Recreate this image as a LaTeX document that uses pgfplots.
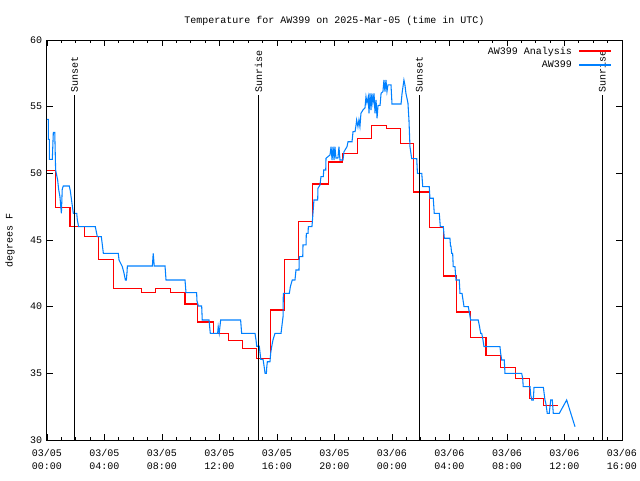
\documentclass[border=0pt]{standalone}
\usepackage{pgfplots}
\pgfplotsset{compat=1.18}
\usepackage{fontspec}
\setmainfont{Liberation Mono}
\definecolor{anred}{RGB}{255,0,0}
\definecolor{obsblue}{RGB}{0,128,255}
\newcommand{\gfont}{\fontsize{7.5}{9.75}\selectfont}
\begin{document}
\gfont
\begin{tikzpicture}[x=1pt,y=1pt]
\begin{axis}[
  scale only axis, width=431.25pt, height=300pt,
  at={(0pt,0pt)}, anchor=south west,
  xmin=0, xmax=40, ymin=30, ymax=60,
  xtick={0,4,...,40},
  xticklabels={{03/05\\00:00},{03/05\\04:00},{03/05\\08:00},{03/05\\12:00},{03/05\\16:00},{03/05\\20:00},{03/06\\00:00},{03/06\\04:00},{03/06\\08:00},{03/06\\12:00},{03/06\\16:00}},
  minor x tick num=3,
  ytick={30,35,...,60},
  tick align=inside,
  major tick length=4.5pt, minor tick length=2.25pt,
  tick style={black, line width=0.6pt},
  axis line style={line width=0.75pt},
  xticklabel style={align=center, font=\gfont, yshift=-4.5pt},
  yticklabel style={font=\gfont, xshift=-1pt},
  /pgf/number format/assume math mode=true,
  legend plot pos=right,
  legend cell align=right,
  legend image code/.code={\draw[#1, line width=1.4pt] (0pt,0pt) -- (24pt,0pt);},
  legend style={draw=none, fill=none, at={(1,1)}, anchor=north east,
    xshift=-7pt, yshift=-3pt, font=\gfont, inner sep=0pt, row sep=0pt,
    column sep=3pt},
]
\addplot[color=anred, line width=0.8pt, const plot] coordinates {
(0,50.2)(0.6,47.45)(1.6,46.0)(2.6,45.25)(3.6,43.55)(4.6,41.38)(6.6,41.07)(7.56,41.38)(8.6,41.07)(9.6,40.2)(10.5,38.85)(11.57,38.0)(12.6,37.43)(13.6,36.88)(14.6,36.13)(15.58,39.75)(16.5,43.55)(17.5,46.38)(18.5,49.2)(19.57,50.85)(20.55,51.5)(21.6,52.6)(22.6,53.6)(23.6,53.37)(24.6,52.27)(25.48,48.6)(26.6,45.95)(27.57,42.3)(28.5,39.6)(29.45,37.7)(30.54,36.35)(31.56,35.45)(32.56,34.63)(33.55,33.13)(34.57,32.58)(35.57,32.58)
};
\addlegendentry{AW399 Analysis}
\addplot[color=obsblue, line width=0.8pt] coordinates {
(0,54.05)(0.09,54.05)(0.09,52.55)(0.16,52.55)(0.16,51.05)(0.37,51.05)(0.44,53.07)(0.54,53.07)(0.6,50.25)(0.74,49.5)(0.81,48.8)(0.9,48.25)(1.0,47.0)(1.06,48.8)(1.13,49.05)(1.55,49.05)(1.62,48.7)(1.69,48.13)(1.83,47.0)(2.07,47.0)(2.11,46.5)(2.2,46.0)(3.36,46.0)(3.5,45.25)(3.78,45.25)(3.85,44.63)(3.92,44.0)(4.96,44.0)(5.01,43.5)(5.24,43.0)(5.36,42.5)(5.45,42.0)(5.52,42.0)(5.57,42.62)(5.59,43.05)(7.33,43.05)(7.39,44.0)(7.46,43.05)(8.21,43.05)(8.28,42.0)(9.6,42.0)(9.67,41.05)(10.41,41.05)(10.43,40.45)(10.53,40.05)(10.76,40.05)(10.8,39.0)(11.27,39.0)(11.36,38.0)(11.87,38.0)(11.91,38.5)(11.98,38.0)(12.08,39.0)(13.47,39.0)(13.54,38.0)(14.47,38.0)(14.54,37.5)(14.59,37.03)(14.77,37.03)(14.87,36.05)(15.03,36.05)(15.1,35.55)(15.17,35.0)(15.26,35.0)(15.29,35.5)(15.33,35.87)(15.51,35.87)(15.56,36.5)(15.63,37.0)(15.72,37.5)(15.86,38.0)(16.28,38.0)(16.35,38.63)(16.42,39.25)(16.44,41.0)(16.86,41.0)(16.93,41.5)(17.06,42.0)(17.25,42.0)(17.32,42.75)(17.53,42.75)(17.55,43.75)(17.79,43.75)(17.81,44.63)(18.02,44.63)(18.04,45.5)(18.16,45.5)(18.18,46.0)(18.43,46.0)(18.46,46.38)(18.57,48.0)(18.83,48.0)(18.85,48.88)(18.99,49.13)(19.06,49.75)(19.22,49.75)(19.25,50.25)(19.39,50.25)(19.41,51.13)(19.69,51.38)(19.76,52.0)(19.83,51.0)(19.9,52.0)(19.97,51.0)(20.03,52.0)(20.1,51.15)(20.24,51.15)(20.31,52.0)(20.38,51.0)(20.59,51.0)(20.66,51.62)(20.87,52.0)(20.94,52.37)(21.22,52.37)(21.29,53.13)(21.43,53.13)(21.5,53.63)(21.54,54.0)(21.63,53.5)(21.7,54.0)(21.77,53.5)(21.84,54.5)(21.98,54.75)(22.12,54.9)(22.19,55.75)(22.26,55.27)(22.35,55.75)(22.4,54.5)(22.47,56.0)(22.54,54.75)(22.6,56.0)(22.67,55.27)(22.75,56.0)(22.82,54.5)(22.89,55.5)(22.96,54.13)(23.03,55.1)(23.17,55.1)(23.24,56.0)(23.37,56.13)(23.44,57.0)(23.51,56.13)(23.58,57.0)(23.65,56.13)(23.72,56.63)(23.93,56.63)(24.0,55.2)(24.63,55.2)(24.7,56.0)(24.83,57.0)(24.9,56.63)(24.97,56.0)(25.11,55.27)(25.18,54.0)(25.25,52.0)(25.37,51.1)(25.72,51.1)(25.77,50.0)(26.07,50.0)(26.14,49.0)(26.59,49.0)(26.64,48.13)(26.87,48.13)(26.94,47.0)(27.29,47.0)(27.36,46.0)(27.57,46.0)(27.64,45.13)(28.03,45.13)(28.07,44.55)(28.1,44.55)(28.15,44.0)(28.22,44.0)(28.26,43.0)(28.38,43.0)(28.45,42.0)(28.68,42.0)(28.73,41.0)(28.87,41.0)(28.94,40.5)(29.01,40.0)(29.31,40.0)(29.39,39.5)(29.47,39.0)(30.0,39.0)(30.09,38.5)(30.17,38.0)(30.24,38.0)(30.31,37.63)(30.4,37.0)(31.51,37.0)(31.56,36.5)(31.63,36.0)(31.81,36.0)(31.86,35.0)(33.02,35.0)(33.09,34.63)(33.13,34.0)(33.6,34.0)(33.65,33.38)(33.72,33.0)(33.83,33.0)(33.88,33.95)(34.53,33.95)(34.64,33.0)(34.71,32.7)(34.8,32.0)(34.94,32.0)(35.04,33.0)(35.15,33.0)(35.22,32.0)(35.64,32.0)(36.15,33.0)(36.73,31.0)
};
\addlegendentry{AW399}
\addplot[black, line width=0.75pt, forget plot] coordinates {(1.91,30) (1.91,55.875)};
\addplot[black, line width=0.75pt, forget plot] coordinates {(14.71,30) (14.71,55.875)};
\addplot[black, line width=0.75pt, forget plot] coordinates {(25.9,30) (25.9,55.875)};
\addplot[black, line width=0.75pt, forget plot] coordinates {(38.61,30) (38.61,55.875)};
\node[rotate=90, anchor=west, font=\gfont, inner sep=2pt] at (axis cs:1.91,55.875) {Sunset};
\node[rotate=90, anchor=west, font=\gfont, inner sep=2pt] at (axis cs:14.71,55.875) {Sunrise};
\node[rotate=90, anchor=west, font=\gfont, inner sep=2pt] at (axis cs:25.9,55.875) {Sunset};
\node[rotate=90, anchor=west, font=\gfont, inner sep=2pt] at (axis cs:38.61,55.875) {Sunrise};
\end{axis}
\node[font=\gfont] at (215.6pt,314.25pt) {Temperature for AW399 on 2025-Mar-05 (time in UTC)};
\node[font=\gfont, rotate=90] at (-27.75pt,150pt) {degrees F};
\pgfresetboundingbox
\useasboundingbox (-35.25pt,-30pt) rectangle (444.75pt,330pt);
\end{tikzpicture}
\end{document}
